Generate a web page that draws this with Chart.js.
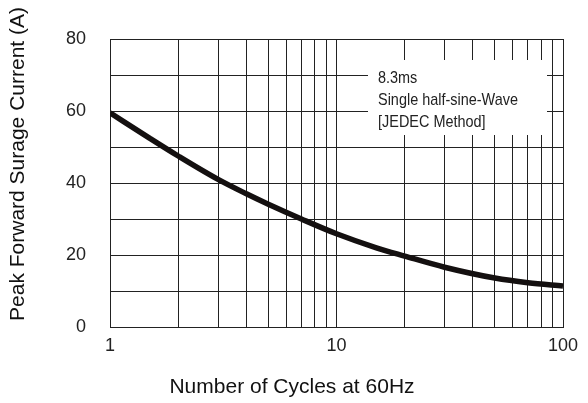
<!DOCTYPE html>
<html>
<head>
<meta charset="utf-8">
<script src="https://cdn.jsdelivr.net/npm/chart.js@4.4.1/dist/chart.umd.min.js"></script>
<style>
  html, body { margin: 0; padding: 0; background: #fff; }
  #wrap { width: 588px; height: 403px; }
</style>
</head>
<body>
<div id="wrap"><canvas id="chart" width="588" height="403"></canvas></div>
<script>
// values
const cycles = [1, 1.5, 2, 3, 4, 5, 7, 10, 15, 20, 30, 50, 70, 100];
const surgeCurrent = [59.5, 52.4, 47.5, 41.0, 37.0, 34.1, 30.0, 25.9, 22.0, 19.7, 16.6, 13.6, 12.3, 11.4];

// grid lines of the log axis and the ones that carry a label
const xGridValues = [1, 2, 3, 4, 5, 6, 7, 8, 9, 10, 20, 30, 40, 50, 60, 70, 80, 90, 100];
const xLabelValues = [1, 10, 100];
const yTickValues = [0, 10, 20, 30, 40, 50, 60, 70, 80];
const yLabelValues = [0, 20, 40, 60, 80];

const noteLines = ['8.3ms', 'Single half-sine-Wave', '[JEDEC Method]'];
const xTitle = 'Number of Cycles at 60Hz';
const yTitle = 'Peak Forward Surage Current (A)';

const FONT = "'Liberation Sans', Arial, sans-serif";

// axis titles and the note box, drawn by hand
const extrasPlugin = {
  id: 'extras',
  beforeDatasetsDraw(chart) {
    const ctx = chart.ctx;
    ctx.save();
    ctx.fillStyle = '#fff';
    ctx.fillRect(368, 60, 179, 75);
    ctx.fillStyle = '#222';
    ctx.font = '17px ' + FONT;
    ctx.textBaseline = 'alphabetic';
    noteLines.forEach((line, i) => {
      ctx.save();
      ctx.translate(378, 83 + i * 22);
      ctx.scale(0.85, 1);
      ctx.fillText(line, 0, 0);
      ctx.restore();
    });
    ctx.restore();
  },
  afterDraw(chart) {
    const ctx = chart.ctx;
    ctx.save();
    ctx.fillStyle = '#111';
    ctx.font = '21px ' + FONT;
    ctx.textAlign = 'center';
    ctx.textBaseline = 'middle';
    ctx.fillText(xTitle, 292, 387);
    ctx.translate(18, 164);
    ctx.rotate(-Math.PI / 2);
    ctx.fillText(yTitle, 0, 0);
    ctx.restore();
  }
};

new Chart(document.getElementById('chart'), {
  type: 'line',
  data: {
    datasets: [{
      data: cycles.map((c, i) => ({ x: c, y: surgeCurrent[i] })),
      borderColor: '#141010',
      borderWidth: 5.5,
      pointRadius: 0,
      cubicInterpolationMode: 'monotone',
      fill: false
    }]
  },
  options: {
    responsive: false,
    animation: false,
    layout: { padding: { left: 0, right: 25, top: 39, bottom: 0 } },
    plugins: {
      legend: { display: false },
      tooltip: { enabled: false }
    },
    scales: {
      x: {
        type: 'logarithmic',
        min: 1,
        max: 100,
        afterBuildTicks: axis => {
          axis.ticks = xGridValues.map(v => ({ value: v }));
        },
        afterFit: axis => { axis.height = 76; },
        grid: { color: '#222', lineWidth: 1, drawTicks: false },
        border: { color: '#222', width: 1 },
        ticks: {
          autoSkip: false,
          maxRotation: 0,
          padding: 8,
          color: '#222',
          font: { family: FONT, size: 18 },
          callback: v => xLabelValues.includes(v) ? String(v) : ''
        }
      },
      y: {
        min: 0,
        max: 80,
        afterBuildTicks: axis => {
          axis.ticks = yTickValues.map(v => ({ value: v }));
        },
        afterFit: axis => { axis.width = 110; },
        grid: { color: '#222', lineWidth: 1, drawTicks: false },
        border: { color: '#222', width: 1 },
        ticks: {
          padding: 24,
          color: '#222',
          font: { family: FONT, size: 18 },
          callback: v => yLabelValues.includes(v) ? String(v) : ''
        }
      }
    }
  },
  plugins: [extrasPlugin]
});
</script>
</body>
</html>
